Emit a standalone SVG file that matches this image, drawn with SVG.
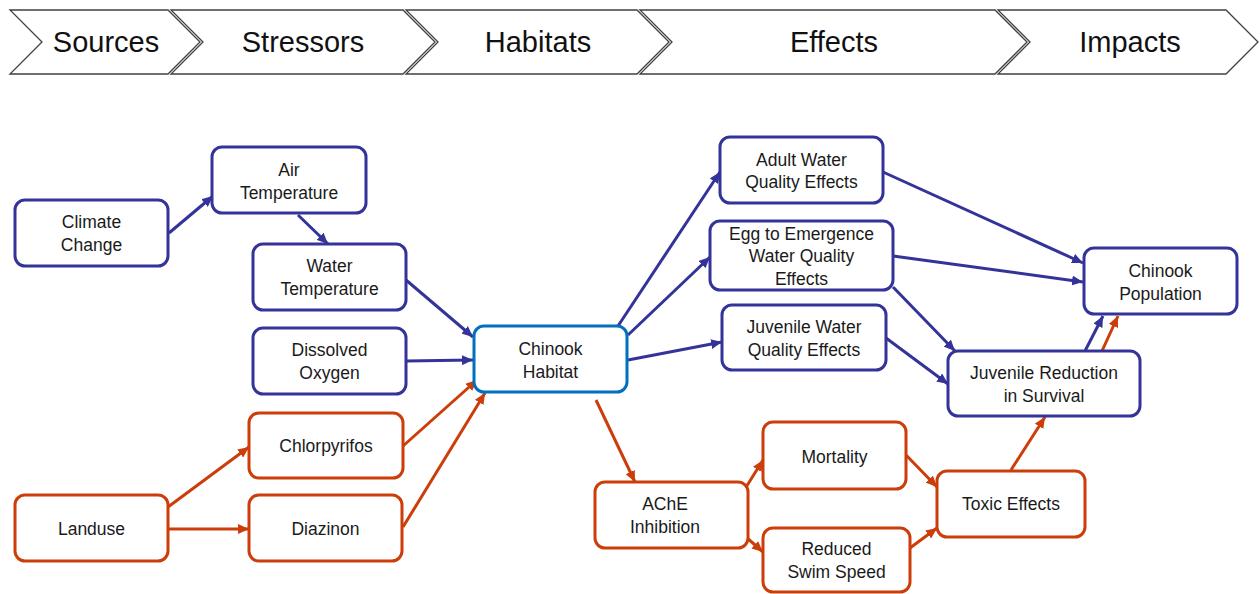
<svg xmlns="http://www.w3.org/2000/svg" width="1260" height="594" viewBox="0 0 1260 594">
<style>
.chev{fill:#fff;stroke:#404040;stroke-width:1.3}
.ht{font-family:"Liberation Sans",Arial,sans-serif;font-size:29px;fill:#111;text-anchor:middle}
.nb{fill:#fff;stroke:#333399;stroke-width:3}
.no{fill:#fff;stroke:#CC3D0A;stroke-width:3}
.nh{fill:#fff;stroke:#0070C0;stroke-width:3}
.t{font-family:"Liberation Sans",Arial,sans-serif;font-size:17.5px;fill:#1a1a1a;text-anchor:middle}
.cb{stroke:#333399;stroke-width:3;fill:none;marker-end:url(#ab)}
.co{stroke:#CC3D0A;stroke-width:3;fill:none;marker-end:url(#ao)}
</style>
<defs>
<marker id="ab" markerUnits="userSpaceOnUse" markerWidth="12" markerHeight="10" refX="11" refY="5" orient="auto"><path d="M0,0 L11,5 L0,10 z" fill="#333399"/></marker>
<marker id="ao" markerUnits="userSpaceOnUse" markerWidth="12" markerHeight="10" refX="11" refY="5" orient="auto"><path d="M0,0 L11,5 L0,10 z" fill="#CC3D0A"/></marker>
</defs>
<rect width="1260" height="594" fill="#fff"/>
<g id="header">
<polygon class="chev" points="10,10 168,10 200,42 168,74 10,74 42,42"/>
<polygon class="chev" points="171,10 403,10 435,42 403,74 171,74 203,42"/>
<polygon class="chev" points="406,10 637,10 669,42 637,74 406,74 438,42"/>
<polygon class="chev" points="640,10 995,10 1027,42 995,74 640,74 672,42"/>
<polygon class="chev" points="998,10 1226,10 1258,42 1226,74 998,74 1030,42"/>
<text class="ht" x="106" y="52">Sources</text>
<text class="ht" x="303" y="52">Stressors</text>
<text class="ht" x="538" y="52">Habitats</text>
<text class="ht" x="834" y="52">Effects</text>
<text class="ht" x="1130" y="52">Impacts</text>
</g>
<g id="connectors">
<line class="cb" x1="169" y1="233" x2="213" y2="196"/>
<line class="cb" x1="298" y1="215" x2="328" y2="244"/>
<line class="cb" x1="406" y1="280" x2="473" y2="337"/>
<line class="cb" x1="406" y1="361" x2="473" y2="360"/>
<line class="cb" x1="618" y1="326" x2="720" y2="172"/>
<line class="cb" x1="628" y1="335" x2="710" y2="257"/>
<line class="cb" x1="628" y1="360" x2="722" y2="342"/>
<line class="cb" x1="883" y1="172" x2="1083" y2="263"/>
<line class="cb" x1="893" y1="256" x2="1083" y2="282"/>
<line class="cb" x1="893" y1="287" x2="955" y2="351"/>
<line class="cb" x1="886" y1="338" x2="948" y2="384"/>
<line class="cb" x1="1085" y1="351" x2="1103" y2="316"/>
<line class="co" x1="1102" y1="351" x2="1118" y2="316"/>
<line class="co" x1="168" y1="507" x2="249" y2="447"/>
<line class="co" x1="168" y1="529" x2="249" y2="529"/>
<line class="co" x1="403" y1="446" x2="477" y2="380"/>
<line class="co" x1="403" y1="527" x2="485" y2="393"/>
<line class="co" x1="596" y1="400" x2="635" y2="482"/>
<line class="co" x1="738" y1="500" x2="763" y2="460"/>
<line class="co" x1="738" y1="530" x2="763" y2="552"/>
<line class="co" x1="906" y1="455" x2="937" y2="487"/>
<line class="co" x1="910" y1="548" x2="937" y2="528"/>
<line class="co" x1="1011" y1="470" x2="1045" y2="417"/>
</g>
<g id="climate-change"><rect class="nb" x="15" y="200" width="153" height="66" rx="10"/><text class="t" x="91.5" y="228">Climate</text><text class="t" x="91.5" y="251">Change</text></g>
<g id="air-temperature"><rect class="nb" x="212" y="147" width="154" height="66" rx="10"/><text class="t" x="289" y="176">Air</text><text class="t" x="289" y="199">Temperature</text></g>
<g id="water-temperature"><rect class="nb" x="253" y="244" width="153" height="66" rx="10"/><text class="t" x="329.5" y="272">Water</text><text class="t" x="329.5" y="295">Temperature</text></g>
<g id="dissolved-oxygen"><rect class="nb" x="253" y="328" width="153" height="66" rx="10"/><text class="t" x="329.5" y="356">Dissolved</text><text class="t" x="329.5" y="379">Oxygen</text></g>
<g id="chinook-habitat"><rect class="nh" x="474" y="326" width="153" height="66" rx="10"/><text class="t" x="550.5" y="355">Chinook</text><text class="t" x="550.5" y="378">Habitat</text></g>
<g id="chlorpyrifos"><rect class="no" x="249" y="413" width="154" height="65" rx="10"/><text class="t" x="326" y="452">Chlorpyrifos</text></g>
<g id="landuse"><rect class="no" x="15" y="495" width="153" height="66" rx="10"/><text class="t" x="91.5" y="535">Landuse</text></g>
<g id="diazinon"><rect class="no" x="249" y="495" width="153" height="66" rx="10"/><text class="t" x="325.5" y="535">Diazinon</text></g>
<g id="adult-wq"><rect class="nb" x="720" y="137" width="163" height="66" rx="10"/><text class="t" x="801.5" y="166">Adult Water</text><text class="t" x="801.5" y="188">Quality Effects</text></g>
<g id="egg-wq"><rect class="nb" x="710" y="221" width="183" height="69" rx="10"/><text class="t" x="801.5" y="240">Egg to Emergence</text><text class="t" x="801.5" y="262">Water Quality</text><text class="t" x="801.5" y="285">Effects</text></g>
<g id="juvenile-wq"><rect class="nb" x="722" y="305" width="164" height="65" rx="10"/><text class="t" x="804" y="333">Juvenile Water</text><text class="t" x="804" y="356">Quality Effects</text></g>
<g id="chinook-population"><rect class="nb" x="1084" y="248" width="153" height="66" rx="10"/><text class="t" x="1160.5" y="277">Chinook</text><text class="t" x="1160.5" y="300">Population</text></g>
<g id="juvenile-reduction"><rect class="nb" x="948" y="351" width="192" height="65" rx="10"/><text class="t" x="1044" y="379">Juvenile Reduction</text><text class="t" x="1044" y="402">in Survival</text></g>
<g id="ache-inhibition"><rect class="no" x="595" y="482" width="153" height="66" rx="10"/><text class="t" x="665" y="510">AChE</text><text class="t" x="665" y="533">Inhibition</text></g>
<g id="mortality"><rect class="no" x="763" y="422" width="143" height="67" rx="10"/><text class="t" x="834.5" y="463">Mortality</text></g>
<g id="reduced-swim-speed"><rect class="no" x="763" y="528" width="147" height="64" rx="10"/><text class="t" x="836.5" y="555">Reduced</text><text class="t" x="836.5" y="578">Swim Speed</text></g>
<g id="toxic-effects"><rect class="no" x="937" y="471" width="148" height="66" rx="10"/><text class="t" x="1011" y="510">Toxic Effects</text></g>
</svg>
